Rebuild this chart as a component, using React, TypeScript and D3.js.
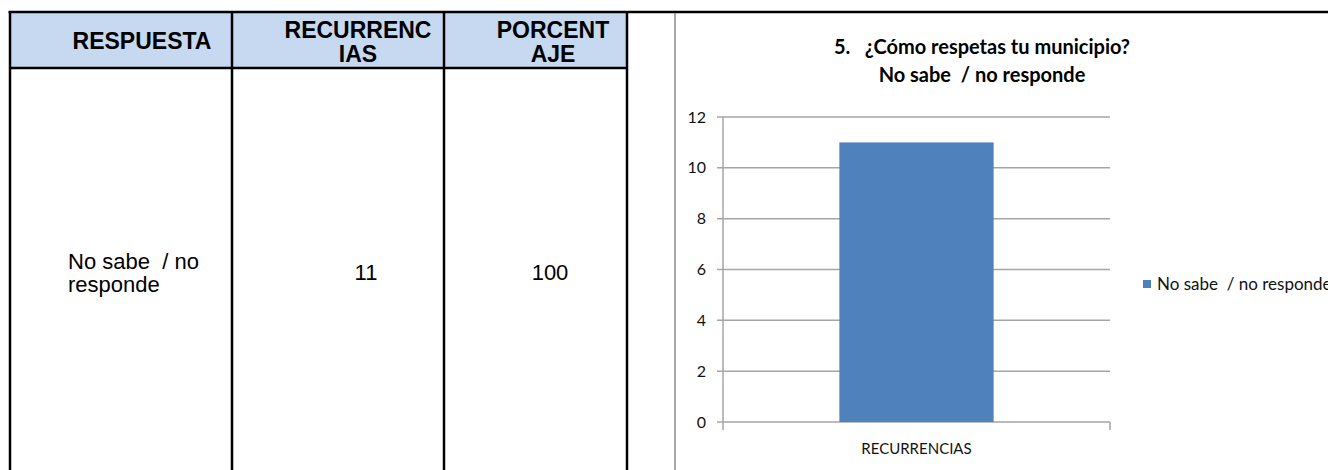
import React from "react";
import * as d3 from "d3";

const headers: string[][] = [["RESPUESTA"], ["RECURRENC", "IAS"], ["PORCENT", "AJE"]];
const respuestas: string[][] = [["No sabe  / no", "responde"]];
const recurrencias: number[] = [11];
const porcentajes: number[] = [100];

const chartTitle: string[] = ["5.   ¿Cómo respetas tu municipio?", "No sabe  / no responde"];
const categories: string[] = ["RECURRENCIAS"];
const seriesName = "No sabe  / no responde";
const seriesValues: number[] = [11];
const yTicks: number[] = [0, 2, 4, 6, 8, 10, 12];

const W = 1328;
const H = 470;

const pre = { whiteSpace: "pre" as const };

export default function App() {
  // table geometry
  const colX = [10, 232, 444, 627];
  const tableTop = 12;
  const headerBottom = 68;
  const headerFill = "#c6d9f1";

  // chart geometry
  const plotLeft = 723;
  const plotRight = 1110;
  const y = d3.scaleLinear().domain([0, 12]).range([422, 117]);
  const x = d3.scaleBand<string>().domain(categories).range([plotLeft, plotRight]).paddingInner(0.43).paddingOuter(0.43);
  const barColor = "#4f81bd";
  const gridColor = "#a6a6a6";
  const chartFont = "Lato, 'Noto Sans', sans-serif";
  const tableFont = "'Liberation Sans', Arial, sans-serif";

  const headerCenters = [142, 358, 553];

  return (
    <svg width={W} height={H} style={{ position: "absolute", left: 0, top: 0, background: "#fff" }}>
      {/* header fill */}
      <rect x={colX[0]} y={tableTop} width={colX[3] - colX[0]} height={headerBottom - tableTop} fill={headerFill} />
      {/* top black line across */}
      <line x1={colX[0] - 1.5} x2={W} y1={tableTop} y2={tableTop} stroke="#000" strokeWidth={2.5} />
      {/* vertical borders */}
      {colX.map((cx, i) => (
        <line key={i} x1={cx} x2={cx} y1={tableTop} y2={H} stroke="#000" strokeWidth={2.5} />
      ))}
      <line x1={colX[0]} x2={colX[3]} y1={headerBottom} y2={headerBottom} stroke="#000" strokeWidth={2.5} />

      {/* headers */}
      {headers.map((lines, i) => (
        <text key={i} fontFamily={tableFont} fontWeight="bold" fontSize={23} fill="#000" textAnchor="middle">
          {lines.length === 1 ? (
            <tspan x={headerCenters[i]} y={49}>{lines[0]}</tspan>
          ) : (
            <>
              <tspan x={headerCenters[i]} y={38}>{lines[0]}</tspan>
              <tspan x={headerCenters[i]} y={62}>{lines[1]}</tspan>
            </>
          )}
        </text>
      ))}

      {/* body */}
      {respuestas.map((lines, r) => (
        <g key={r} fontFamily={tableFont} fontSize={22} fill="#000">
          <text x={68} y={269} style={pre}>{lines[0]}</text>
          <text x={68} y={292} style={pre}>{lines[1]}</text>
          <text x={366} y={280} textAnchor="middle">{recurrencias[r]}</text>
          <text x={550} y={280} textAnchor="middle">{porcentajes[r]}</text>
        </g>
      ))}

      {/* chart frame */}
      <line x1={675} x2={675} y1={13} y2={H} stroke="#8c8c8c" strokeWidth={1.5} />

      {/* title */}
      <g fontFamily={chartFont} fontWeight="bold" fontSize={20} fill="#000" textAnchor="middle">
        <text x={982} y={54} style={pre}>{chartTitle[0]}</text>
        <text x={982} y={82} style={pre}>{chartTitle[1]}</text>
      </g>

      {/* gridlines */}
      {yTicks.map((t) => (
        <g key={t}>
          <line x1={plotLeft - 6} x2={plotRight} y1={y(t)} y2={y(t)} stroke={gridColor} strokeWidth={1.5} />
          <text x={706} y={y(t)} dy="0.35em" textAnchor="end" fontFamily={chartFont} fontSize={16} fill="#111">{t}</text>
        </g>
      ))}
      {/* y axis */}
      <line x1={plotLeft} x2={plotLeft} y1={y(12)} y2={y(0)} stroke={gridColor} strokeWidth={1.5} />
      {/* x axis ticks */}
      <line x1={plotLeft} x2={plotLeft} y1={y(0)} y2={y(0) + 8} stroke={gridColor} strokeWidth={1.5} />
      <line x1={plotRight} x2={plotRight} y1={y(0)} y2={y(0) + 8} stroke={gridColor} strokeWidth={1.5} />

      {/* bars */}
      {categories.map((c, i) => (
        <rect key={c} x={x(c)} y={y(seriesValues[i])} width={x.bandwidth()} height={y(0) - y(seriesValues[i])} fill={barColor} />
      ))}
      {/* category labels */}
      {categories.map((c) => (
        <text key={c} x={(x(c) ?? 0) + x.bandwidth() / 2} y={454} textAnchor="middle" fontFamily={chartFont} fontSize={15} fill="#111">{c}</text>
      ))}

      {/* legend */}
      <rect x={1143} y={280} width={8} height={8} fill={barColor} />
      <text x={1157} y={284} dy="0.35em" fontFamily={chartFont} fontSize={17} fill="#111" style={pre}>{seriesName}</text>
    </svg>
  );
}
